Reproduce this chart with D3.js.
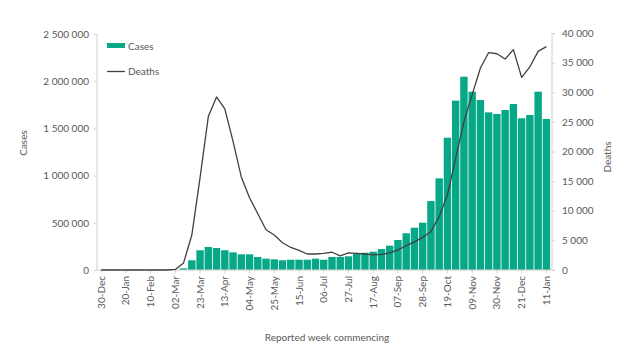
<!DOCTYPE html>
<html><head><meta charset="utf-8">
<script src="https://cdn.jsdelivr.net/npm/d3@7"></script>
<style>
html,body{margin:0;padding:0;background:#fff;}
text{font-family:Lato,"Open Sans",sans-serif;fill:#595959;}
</style></head>
<body><svg id="c" width="630" height="351"></svg>
<script>
const weeks = ["30-Dec","06-Jan","13-Jan","20-Jan","27-Jan","03-Feb","10-Feb","17-Feb","24-Feb","02-Mar",
"09-Mar","16-Mar","23-Mar","30-Mar","06-Apr","13-Apr","20-Apr","27-Apr","04-May","11-May",
"18-May","25-May","01-Jun","08-Jun","15-Jun","22-Jun","29-Jun","06-Jul","13-Jul","20-Jul",
"27-Jul","03-Aug","10-Aug","17-Aug","24-Aug","31-Aug","07-Sep","14-Sep","21-Sep","28-Sep",
"05-Oct","12-Oct","19-Oct","26-Oct","02-Nov","09-Nov","16-Nov","23-Nov","30-Nov","07-Dec",
"14-Dec","21-Dec","28-Dec","04-Jan","11-Jan"];
const cases = [0,0,0,0,0,0,0,0,0,0,
18000,103000,209000,244000,233000,209000,187000,166000,166000,138000,
120000,113000,103000,109000,109000,109000,120000,109000,138000,138000,
145000,175000,183000,194000,222000,258000,318000,389000,448000,501000,
731000,971000,1401000,1794000,2048000,1889000,1801000,1670000,1653000,1695000,
1758000,1607000,1642000,1889000,1600000];
const deaths = [0,0,0,0,0,0,0,0,0,100,
1200,5900,15600,25900,29200,27200,21700,15700,12200,9500,
6800,5900,4600,3800,3300,2700,2700,2800,3000,2400,
2900,2800,2700,2550,2650,2900,3400,4100,4750,5500,
6500,9000,12700,18900,25000,29600,34100,36700,36500,35600,
37200,32500,34300,36900,37700];
const casesTicks = [0,500000,1000000,1500000,2000000,2500000];
const deathsTicks = [0,5000,10000,15000,20000,25000,30000,35000,40000];
const xTickLabels = weeks.filter((d,i)=>i%3===0);

const svg = d3.select("#c");
const loc = d3.formatLocale({decimal:".",thousands:" ",grouping:[3],currency:["",""]});
const fmt = loc.format(",");

const x = d3.scaleBand().domain(weeks).range([97,550.5]).paddingInner(0.1).paddingOuter(0.05);
const yL = d3.scaleLinear().domain([0,2500000]).range([270,34]);
const yR = d3.scaleLinear().domain([0,40000]).range([270,33]);

// bars
svg.append("g").selectAll("rect").data(weeks).join("rect")
  .attr("x",d=>x(d)).attr("width",x.bandwidth())
  .attr("y",(d,i)=>yL(cases[i])).attr("height",(d,i)=>270-yL(cases[i]))
  .attr("fill","#07a887");

// axes
const axL = svg.append("g").attr("transform","translate(97,0)")
  .call(d3.axisLeft(yL).tickValues(casesTicks).tickFormat(fmt).tickSize(3).tickPadding(5));
const axR = svg.append("g").attr("transform","translate(552,0)")
  .call(d3.axisRight(yR).tickValues(deathsTicks).tickFormat(fmt).tickSize(3).tickPadding(7));
const axB = svg.append("g").attr("transform","translate(0,270)")
  .call(d3.axisBottom(x).tickValues(xTickLabels).tickSize(3).tickSizeOuter(0));
[axL,axR,axB].forEach(a=>{
  a.selectAll("path,line").attr("stroke","#d0d0d0");
  a.selectAll("text").style("font-size","10px").attr("fill","#595959").style("font-family","Lato,'Open Sans',sans-serif");
});
axL.select(".domain").attr("d","M0,34V270");
axR.select(".domain").attr("d","M0,33V270");
axB.select(".domain").attr("d","M97,0H552");
axB.selectAll("text").attr("transform","rotate(-90)").attr("text-anchor","end")
  .attr("x",-6).attr("y",0).attr("dy","0.35em");

// line
const line = d3.line().x((d,i)=>x(weeks[i])+x.bandwidth()/2).y(d=>yR(d));
svg.append("path").datum(deaths).attr("d",line).attr("fill","none")
  .attr("stroke","#404040").attr("stroke-width",1.3).attr("stroke-linejoin","round");

// titles
svg.append("text").attr("transform","translate(27,143) rotate(-90)").attr("text-anchor","middle")
  .style("font-size","10px").text("Cases");
svg.append("text").attr("transform","translate(611,157) rotate(-90)").attr("text-anchor","middle")
  .style("font-size","10px").text("Deaths");
svg.append("text").attr("x",327).attr("y",341).attr("text-anchor","middle")
  .style("font-size","10px").text("Reported week commencing");

// legend
const lg = svg.append("g");
lg.append("rect").attr("x",107).attr("y",43).attr("width",18).attr("height",5).attr("fill","#07a887");
lg.append("text").attr("x",128).attr("y",46).attr("dy","0.35em").style("font-size","10px").text("Cases");
lg.append("line").attr("x1",107).attr("x2",125).attr("y1",71.5).attr("y2",71.5).attr("stroke","#404040").attr("stroke-width",1.3);
lg.append("text").attr("x",128).attr("y",71.5).attr("dy","0.35em").style("font-size","10px").text("Deaths");
</script></body></html>
